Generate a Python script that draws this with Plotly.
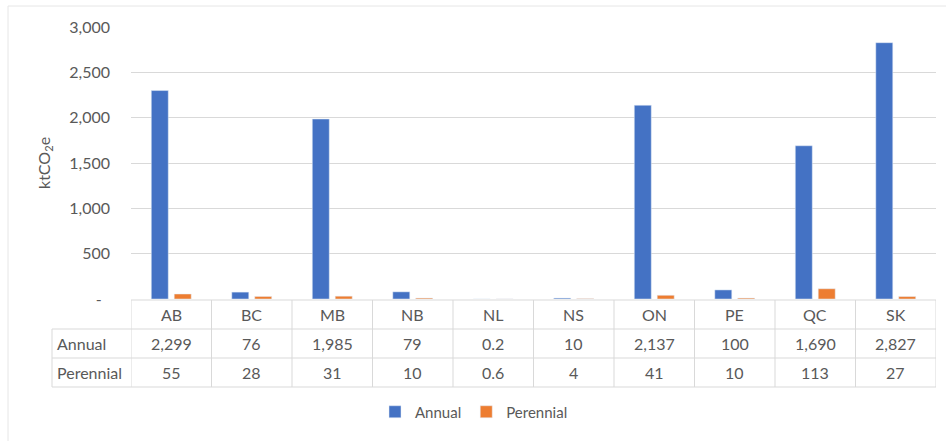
import plotly.graph_objects as go

# Provincial emissions by crop type (ktCO2e)
provinces = ["AB", "BC", "MB", "NB", "NL", "NS", "ON", "PE", "QC", "SK"]
annual = [2299, 76, 1985, 79, 0.2, 10, 2137, 100, 1690, 2827]
perennial = [55, 28, 31, 10, 0.6, 4, 41, 10, 113, 27]
annual_labels = ["2,299", "76", "1,985", "79", "0.2", "10", "2,137", "100", "1,690", "2,827"]
perennial_labels = ["55", "28", "31", "10", "0.6", "4", "41", "10", "113", "27"]
y_ticks = [0, 500, 1000, 1500, 2000, 2500, 3000]
y_ticktext = ["-\u00a0\u00a0", "500", "1,000", "1,500", "2,000", "2,500", "3,000"]

W, H = 946, 441
ML, MR, MT, MB = 131, 10, 27, 142
PW, PH = W - ML - MR, H - MT - MB

BLUE = "#4472C4"
ORANGE = "#ED7D31"
GRID = "#D9D9D9"
TXT = "#595959"
FONT = "Lato"


def py(p):
    """pixel row -> paper y"""
    return (H - MB - p) / PH


def px(p):
    """pixel column -> paper x"""
    return (p - ML) / PW


fig = go.Figure()
fig.add_trace(go.Bar(name="Annual", x=provinces, y=annual, marker_color=BLUE))
fig.add_trace(go.Bar(name="Perennial", x=provinces, y=perennial, marker_color=ORANGE))

# data table under the axis
row_h = 29
top = H - MB + 1
lines = [top, top + row_h, top + 2 * row_h, top + 3 * row_h]
shapes = []
line_style = dict(color=GRID, width=1)
# horizontal rules
shapes.append(dict(type="line", xref="paper", yref="paper", x0=0, x1=1,
                   y0=py(lines[0]), y1=py(lines[0]), line=line_style))
for ln in lines[1:]:
    shapes.append(dict(type="line", xref="paper", yref="paper", x0=px(52), x1=1,
                       y0=py(ln), y1=py(ln), line=line_style))
# vertical rules at category boundaries
n = len(provinces)
for i in range(n + 1):
    shapes.append(dict(type="line", xref="x", yref="paper", x0=i - 0.5, x1=i - 0.5,
                       y0=py(lines[0]), y1=py(lines[3]), line=line_style))
shapes.append(dict(type="line", xref="paper", yref="paper", x0=px(52), x1=px(52),
                   y0=py(lines[1]), y1=py(lines[3]), line=line_style))
# chart frame
shapes.append(dict(type="line", xref="paper", yref="paper", x0=px(8), x1=px(946),
                   y0=py(6), y1=py(6), line=dict(color="#E6E6E6", width=1)))
shapes.append(dict(type="line", xref="paper", yref="paper", x0=px(8), x1=px(8),
                   y0=py(6), y1=py(441), line=dict(color="#E6E6E6", width=1)))

annotations = []
cell_font = dict(family=FONT, size=16, color=TXT)
row_centers = [(lines[0] + lines[1]) / 2, (lines[1] + lines[2]) / 2, (lines[2] + lines[3]) / 2]
for i, p in enumerate(provinces):
    for text, yc in [(p, row_centers[0]), (annual_labels[i], row_centers[1]),
                     (perennial_labels[i], row_centers[2])]:
        annotations.append(dict(x=p, y=py(yc), xref="x", yref="paper",
                                xanchor="center", yanchor="middle",
                                text=text, showarrow=False, font=cell_font))
for label, yc in [("Annual", row_centers[1]), ("Perennial", row_centers[2])]:
    annotations.append(dict(x=px(55), y=py(yc), xref="paper", yref="paper",
                            xanchor="left", yanchor="middle",
                            text=label, showarrow=False, font=cell_font))
# axis title
annotations.append(dict(x=px(44), y=0.5, xref="paper", yref="paper",
                        xanchor="center", yanchor="middle",
                        text="ktCO<sub>2</sub>e", textangle=-90, showarrow=False,
                        font=dict(family=FONT, size=16, color=TXT)))

fig.update_layout(
    width=W, height=H,
    margin=dict(l=ML, r=MR, t=MT, b=MB),
    paper_bgcolor="white", plot_bgcolor="white",
    barmode="group", bargap=0.43, bargroupgap=0.26,
    font=dict(family=FONT, size=15, color=TXT),
    showlegend=True,
    legend=dict(orientation="h", x=px(474), xanchor="center", y=py(412), yanchor="middle",
                font=dict(family=FONT, size=15, color=TXT), tracegroupgap=0),
    shapes=shapes, annotations=annotations,
)
fig.update_xaxes(showticklabels=False, showgrid=False, zeroline=False, showline=False,
                 range=[-0.5, n - 0.5])
fig.update_yaxes(range=[0, 3000], tickvals=y_ticks, ticktext=y_ticktext,
                 showgrid=True, gridcolor=GRID, gridwidth=1, zeroline=False,
                 showline=False, ticklabelstandoff=20,
                 tickfont=dict(family=FONT, size=16, color=TXT))

fig.write_html("out.html")
